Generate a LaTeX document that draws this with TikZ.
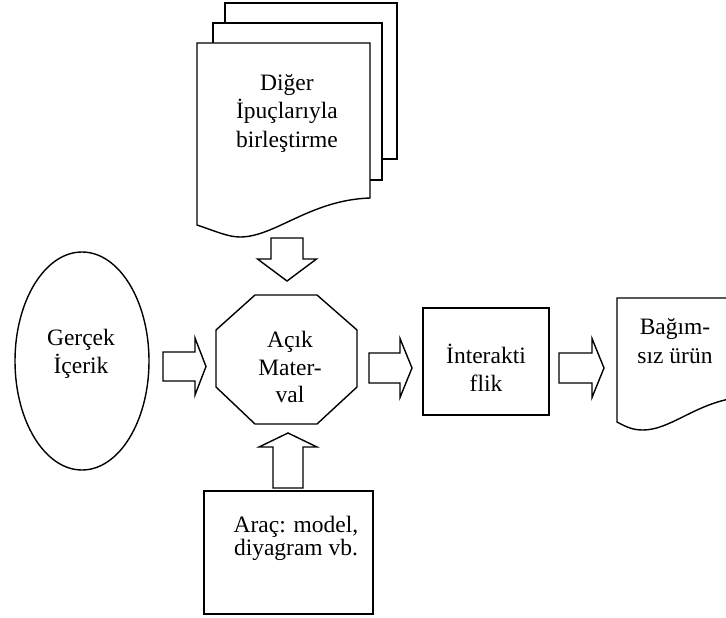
\documentclass[tikz,border=0pt]{standalone}
\usepackage{fontspec}
\setmainfont{Liberation Serif}
\usetikzlibrary{shapes.geometric}
\tikzset{
  shapeline/.style={draw=black,line width=1.4pt,fill=white,line join=miter},
  lbl/.style={align=center,inner sep=0pt,font=\fontsize{23.5}{28.5}\selectfont},
}
\newcommand{\blkarrow}[7]{%
  \draw[shapeline,shift={(#1,#2)},rotate=#3] (0,-#6)--(#4,-#6)--(#4,-#7)--(#4+#5,0)--(#4,#7)--(#4,#6)--(0,#6)--cycle;}
\begin{document}
\begin{tikzpicture}[x=1pt,y=-1pt]
\useasboundingbox (0,0) rectangle (726,618);
\clip (0,0) rectangle (726,618);
% multi-document
\draw[shapeline] (225,3) rectangle (397,159);
\draw[shapeline] (213,23) rectangle (382,180);
\draw[shapeline] (197,43) -- (370,43) -- (370,198)
   .. controls (310,200) and (275,237) .. (240,237)
   .. controls (228,237) and (215,231) .. (197,225) -- cycle;
\node[lbl] (dig) at (287,113) {Diğer\\İpuçlarıyla\\birleştirme};
% ellipse
\draw[shapeline] (82,361) ellipse [x radius=67,y radius=109];
\node[lbl] (ger) at (81,354) {Gerçek\\İçerik};
% octagon
\draw[shapeline] (255,295)--(317,295)--(357,330)--(357,387)--(317,424)--(255,424)--(216,387)--(216,330)--cycle;
\node[lbl,font=\fontsize{23.5}{27.5}\selectfont] (acik) at (290,367) {Açık\\Mater-\\val};
% interaktiflik box
\draw[shapeline] (423,308) rectangle (549,415);
\node[lbl] (int) at (486,368) {İnterakti\\flik};
% right document
\draw[shapeline] (617,298) -- (740,298) -- (740,397) -- (735,398)
   .. controls (695,404) and (670,430) .. (643,430)
   .. controls (634,430) and (628,428) .. (617,422) -- cycle;
\node[lbl] (bag) at (675,341) {Bağım-\\sız ürün};
% bottom box
\draw[shapeline] (204,491) rectangle (373,614);
\node[lbl,font=\fontsize{23.5}{23}\selectfont] (arac) at (296,538) {Araç: model,\\diyagram vb.};
% block arrows
\blkarrow{287}{238}{-90}{21}{22}{16}{29.5}
\blkarrow{163}{366.5}{0}{32}{11}{14.5}{28.5}
\blkarrow{288}{488}{90}{41}{14}{15}{29}
\blkarrow{369}{368}{0}{31}{12}{15}{29.5}
\blkarrow{559}{368}{0}{33}{12}{15}{29.5}
\end{tikzpicture}
\end{document}
